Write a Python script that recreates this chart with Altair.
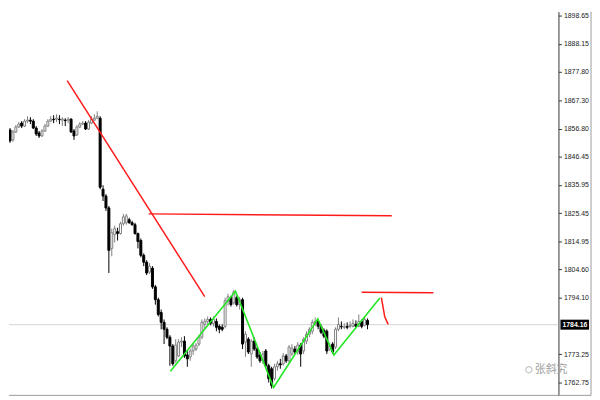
import altair as alt
import pandas as pd

# ---------------- data ----------------
open_ = [1851.87, 1856.26, 1852.60, 1855.53, 1857.36, 1858.82, 1857.72, 1859.55, 1859.91, 1859.55,
         1856.99, 1855.16, 1854.07, 1855.89, 1857.72, 1859.55, 1860.28, 1860.28, 1860.28, 1859.91,
         1859.91, 1859.91, 1860.28, 1855.89, 1854.43, 1857.36, 1858.45, 1858.82, 1856.62, 1858.82,
         1859.91, 1860.64, 1860.64, 1834.33, 1831.78, 1827.39, 1812.41, 1817.53, 1818.62, 1817.89,
         1821.55, 1821.91, 1823.01, 1821.91, 1821.18, 1817.89, 1815.33, 1809.85, 1807.30, 1803.64,
         1805.10, 1798.16, 1793.41, 1788.66, 1785.01, 1782.45, 1779.52, 1776.24, 1770.76, 1772.58,
         1777.70, 1778.06, 1772.95, 1772.22, 1774.41, 1775.14, 1776.97, 1779.52, 1784.27, 1785.37,
         1786.10, 1784.64, 1785.37, 1783.54, 1783.18, 1783.54, 1792.68, 1794.14, 1792.31, 1794.14,
         1791.58, 1793.41, 1777.70, 1778.79, 1773.31, 1778.06, 1775.14, 1772.95, 1770.76, 1774.41,
         1768.93, 1767.83, 1764.18, 1768.56, 1769.66, 1769.66, 1772.58, 1770.76, 1773.31, 1775.14,
         1774.04, 1776.60, 1774.41, 1778.06, 1780.62, 1781.72, 1784.64, 1785.37, 1783.54, 1782.08,
         1781.72, 1775.14, 1776.97, 1775.87, 1782.45, 1783.54, 1783.18, 1783.54, 1783.54, 1783.54,
         1784.27, 1783.54, 1785.37, 1783.91, 1785.74]
high = [1856.26, 1856.99, 1856.26, 1858.09, 1859.18, 1859.55, 1860.28, 1861.37, 1861.01, 1860.28,
        1857.72, 1855.89, 1856.62, 1858.45, 1860.28, 1861.37, 1861.74, 1862.11, 1861.74, 1861.01,
        1860.64, 1861.01, 1860.64, 1856.62, 1858.09, 1859.18, 1859.55, 1859.55, 1859.91, 1861.37,
        1862.11, 1863.20, 1861.37, 1835.80, 1832.51, 1828.12, 1819.72, 1820.81, 1820.08, 1822.28,
        1825.20, 1825.20, 1823.74, 1822.64, 1821.91, 1818.26, 1816.06, 1810.58, 1808.03, 1806.93,
        1805.83, 1798.89, 1794.14, 1789.76, 1786.10, 1783.18, 1780.26, 1776.97, 1778.79, 1778.79,
        1779.52, 1779.89, 1774.41, 1775.14, 1776.97, 1777.33, 1780.26, 1786.10, 1786.47, 1787.20,
        1786.83, 1787.20, 1786.47, 1784.27, 1784.27, 1794.14, 1795.60, 1794.87, 1797.06, 1794.87,
        1794.51, 1794.14, 1781.72, 1779.52, 1778.79, 1779.52, 1775.87, 1774.04, 1774.41, 1775.14,
        1769.66, 1768.56, 1769.66, 1770.76, 1771.49, 1773.68, 1773.31, 1776.60, 1776.97, 1776.24,
        1777.70, 1777.33, 1779.52, 1781.72, 1783.18, 1786.10, 1786.83, 1786.10, 1784.27, 1782.81,
        1782.45, 1777.33, 1777.70, 1783.18, 1786.83, 1785.37, 1784.64, 1785.01, 1785.37, 1786.10,
        1785.74, 1787.93, 1786.10, 1786.83, 1786.47]
low = [1851.14, 1851.51, 1851.87, 1855.16, 1856.99, 1856.99, 1857.36, 1858.82, 1858.45, 1856.62,
       1854.07, 1853.33, 1853.70, 1855.53, 1857.36, 1859.18, 1858.82, 1859.18, 1858.45, 1857.72,
       1857.72, 1858.82, 1855.16, 1852.60, 1854.07, 1856.99, 1858.09, 1856.26, 1856.26, 1858.45,
       1859.55, 1860.28, 1834.33, 1829.95, 1826.30, 1803.28, 1809.49, 1814.60, 1815.33, 1817.53,
       1820.81, 1821.18, 1821.55, 1820.81, 1817.53, 1812.41, 1809.12, 1805.83, 1802.54, 1802.91,
       1797.43, 1791.58, 1787.20, 1782.45, 1776.97, 1778.79, 1768.93, 1768.93, 1770.02, 1772.22,
       1775.87, 1771.85, 1768.56, 1770.76, 1772.95, 1774.41, 1776.24, 1778.79, 1782.81, 1784.27,
       1783.91, 1783.54, 1781.72, 1780.99, 1781.72, 1782.81, 1791.22, 1790.85, 1791.58, 1790.85,
       1789.76, 1775.14, 1772.22, 1773.31, 1768.56, 1774.41, 1771.49, 1770.02, 1769.66, 1768.20,
       1762.72, 1760.52, 1763.45, 1767.10, 1767.83, 1768.93, 1770.02, 1770.02, 1772.58, 1773.31,
       1772.95, 1768.56, 1773.31, 1776.97, 1779.52, 1780.62, 1783.54, 1782.45, 1780.62, 1779.16,
       1773.31, 1774.41, 1773.31, 1775.14, 1781.72, 1782.45, 1782.45, 1782.45, 1782.81, 1783.18,
       1783.18, 1783.18, 1782.81, 1783.54, 1782.45]
close = [1854.80, 1852.24, 1855.53, 1857.36, 1858.45, 1857.72, 1859.55, 1859.91, 1859.55, 1856.99,
         1854.80, 1854.07, 1855.89, 1857.72, 1859.55, 1860.28, 1860.10, 1860.64, 1860.10, 1860.28,
         1859.73, 1860.28, 1855.53, 1854.07, 1857.36, 1858.45, 1858.82, 1856.62, 1859.18, 1860.28,
         1860.64, 1861.37, 1835.07, 1831.78, 1827.39, 1811.68, 1818.26, 1819.72, 1817.89, 1821.55,
         1824.10, 1824.47, 1821.91, 1821.18, 1817.89, 1814.97, 1809.85, 1807.30, 1803.28, 1805.83,
         1798.16, 1793.41, 1787.93, 1785.01, 1782.45, 1779.52, 1776.24, 1769.66, 1776.60, 1777.70,
         1778.06, 1772.58, 1771.49, 1774.41, 1776.24, 1776.60, 1779.52, 1785.01, 1785.37, 1786.10,
         1784.64, 1786.10, 1783.18, 1782.45, 1782.45, 1793.04, 1794.51, 1791.58, 1796.33, 1791.58,
         1793.41, 1776.97, 1780.62, 1774.04, 1778.06, 1775.14, 1772.22, 1770.76, 1773.31, 1768.93,
         1764.18, 1761.62, 1768.56, 1769.66, 1769.29, 1772.58, 1770.76, 1775.87, 1775.51, 1774.04,
         1776.60, 1773.31, 1778.79, 1780.62, 1782.45, 1785.01, 1785.37, 1783.54, 1781.35, 1779.89,
         1774.41, 1776.24, 1774.04, 1782.45, 1784.27, 1783.36, 1783.36, 1783.18, 1783.91, 1784.64,
         1783.54, 1785.37, 1783.54, 1786.10, 1784.16]

tick_values = [1898.65, 1888.15, 1877.80, 1867.30, 1856.80, 1846.45, 1835.95,
               1825.45, 1814.95, 1804.60, 1794.10, 1773.25, 1762.75]
current_price = 1784.16

# annotation lines (bar index, price)
red_diag_x = [20.67, 68.0]
red_diag_y = [1874.53, 1794.51]
red_h1_x = [48.67, 132.33]
red_h1_y = [1825.20, 1824.47]
red_h2_x = [122.0, 146.67]
red_h2_y = [1796.15, 1795.97]
red_tail_x = [128.77, 129.9, 131.1]
red_tail_y = [1794.14, 1787.20, 1784.27]
green_x = [56.17, 78.57, 91.67, 106.9, 112.43, 128.23]
green_y = [1766.92, 1796.51, 1760.89, 1786.28, 1772.95, 1794.03]

watermark = "张斜究"

# ---------------- chart ----------------
W, H = 557, 389
xs = alt.Scale(domain=[2.333, 188], nice=False, zero=False)
ys = alt.Scale(domain=[1757.97, 1900.11], nice=False, zero=False)

df = pd.DataFrame({"idx": list(range(len(close))), "open": open_, "high": high,
                   "low": low, "close": close})
df["dir"] = ["up" if c >= o else "down" for o, c in zip(open_, close)]

X = alt.X("idx:Q", scale=xs, axis=None)
base = alt.Chart(df)

yaxis = alt.Axis(orient="right", values=tick_values, format=".2f", grid=False,
                 domainColor="#333333", domainWidth=1, tickColor="#333333", tickSize=3,
                 labelFont="Liberation Sans", labelFontSize=7, labelColor="#222222",
                 labelPadding=2, title=None, labelOverlap=False, labelBound=False)

wicks = base.mark_rule(strokeWidth=1, clip=True).encode(
    x=X,
    y=alt.Y("low:Q", scale=ys, axis=yaxis),
    y2="high:Q",
    stroke=alt.Stroke("dir:N", scale=alt.Scale(domain=["up", "down"], range=["#808080", "#000000"]), legend=None),
)

bodies = base.mark_bar(width=2, strokeWidth=1, clip=True).encode(
    x=X,
    y=alt.Y("open:Q", scale=ys, axis=yaxis),
    y2="close:Q",
    fill=alt.Fill("dir:N", scale=alt.Scale(domain=["up", "down"], range=["#ffffff", "#000000"]), legend=None),
    stroke=alt.Stroke("dir:N", scale=alt.Scale(domain=["up", "down"], range=["#808080", "#000000"]), legend=None),
)

price_line = alt.Chart(pd.DataFrame({"p": [current_price]})).mark_rule(
    color="#d4d4d4", strokeWidth=1).encode(y=alt.Y("p:Q", scale=ys, axis=yaxis))


def line(xv, yv, color, w=1.5):
    d = pd.DataFrame({"x": xv, "y": yv, "o": list(range(len(xv)))})
    return alt.Chart(d).mark_line(color=color, strokeWidth=w, clip=True).encode(
        x=alt.X("x:Q", scale=xs, axis=None), y=alt.Y("y:Q", scale=ys, axis=yaxis), order="o:Q")


red1 = line(red_diag_x, red_diag_y, "#ff1a1a")
red2 = line(red_h1_x, red_h1_y, "#ff1a1a")
red3 = line(red_h2_x, red_h2_y, "#ff1a1a")
red4 = line(red_tail_x, red_tail_y, "#ff1a1a")
green = line(green_x, green_y, "#22e622", 1.6)

lab_df = pd.DataFrame({"p": [current_price], "t": [f"{current_price:.2f}"]})
lab_box = alt.Chart(lab_df).transform_calculate(
    top="datum.p + 1.85", bot="datum.p - 1.85").mark_rect(color="#000000").encode(
    x=alt.value(559), x2=alt.value(588),
    y=alt.Y("top:Q", scale=ys, axis=yaxis), y2="bot:Q")
lab_txt = alt.Chart(lab_df).mark_text(
    color="#ffffff", font="Liberation Sans", fontSize=7, fontWeight="bold",
    align="left", baseline="middle").encode(
    x=alt.value(561), y=alt.Y("p:Q", scale=ys, axis=yaxis), text="t:N")

wm_icon = alt.Chart(pd.DataFrame({"a": [0]})).mark_point(
    shape="circle", size=40, color="#b0b0b0", strokeWidth=1.2).encode(
    x=alt.value(527), y=alt.value(363))
wm_txt = alt.Chart(pd.DataFrame({"t": [watermark]})).mark_text(
    color="#a0a0a0", font="Noto Sans CJK SC", fontSize=11, align="left",
    baseline="middle").encode(x=alt.value(533), y=alt.value(363), text="t:N")

frame_bottom = alt.Chart(pd.DataFrame({"a": [0]})).mark_rule(color="#9a9a9a", strokeWidth=1).encode(
    x=alt.value(0), x2=alt.value(590), y=alt.value(389))
frame_right = alt.Chart(pd.DataFrame({"a": [0]})).mark_rule(color="#9a9a9a", strokeWidth=1).encode(
    x=alt.value(590), y=alt.value(0), y2=alt.value(389))

chart = alt.layer(
    price_line, wicks, bodies, red1, red2, red3, red4, green,
    lab_box, lab_txt, wm_icon, wm_txt, frame_bottom, frame_right
).properties(width=W, height=H, padding=0, background="#ffffff").configure_view(
    strokeWidth=0).configure_axis(labelOverlap=False)

chart.save("out.html", embed_options={"renderer": "svg", "actions": False})
